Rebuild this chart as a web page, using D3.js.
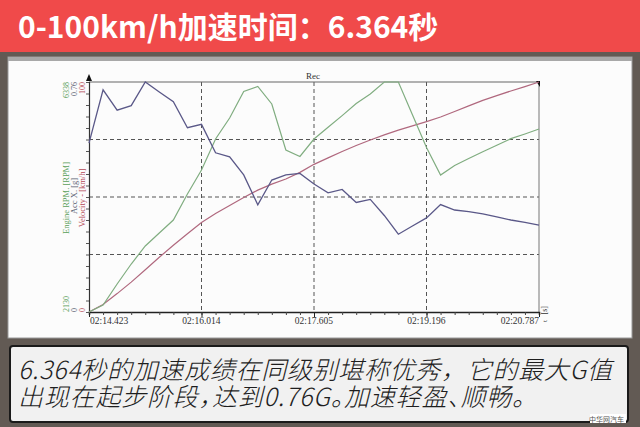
<!DOCTYPE html>
<html><head><meta charset="utf-8">
<script src="https://cdn.jsdelivr.net/npm/d3@7"></script>
<style>
html,body{margin:0;padding:0;background:#625a54;}
svg{display:block;}
</style></head>
<body>
<script>
// ---- data ----
const titleText = "0-100km/h加速时间：6.364秒";
const captionLines = ["6.364秒的加速成绩在同级别堪称优秀，它的最大G值", "出现在起步阶段，达到0.76G。加速轻盈、顺畅。"];
const timeLabels = ["02:14.423","02:16.014","02:17.605","02:19.196","02:20.787"];
const timeTicks = [0, 1.591, 3.182, 4.773, 6.364];
const times = [0,0.199,0.398,0.597,0.796,0.994,1.193,1.392,1.591,1.790,1.989,2.188,2.387,2.585,2.784,2.983,3.182,3.381,3.580,3.779,3.978,4.176,4.375,4.574,4.773,4.972,5.171,5.370,5.569,5.767,5.966,6.165,6.364];
const accX = [0.558,0.734,0.667,0.682,0.760,0.727,0.695,0.609,0.620,0.526,0.513,0.453,0.354,0.436,0.453,0.458,0.423,0.394,0.405,0.362,0.372,0.319,0.257,0.284,0.311,0.355,0.337,0.332,0.324,0.314,0.304,0.296,0.287];
const rpm = [2130,2258,2642,3008,3338,3575,3813,4289,4728,5295,5679,6164,6256,5936,5094,4975,5295,5509,5723,5945,6118,6338,6338,5738,5140,4636,4810,4938,5061,5182,5301,5387,5478];
const velocity = [0,3.3,8.0,13.0,18.4,23.8,29.0,34.0,38.9,42.8,46.3,49.8,53.0,55.6,57.8,60.7,64.2,67.0,69.8,72.4,74.8,77.0,79.1,80.9,82.8,84.8,87.2,89.6,92.0,94.1,96.1,98.0,100];
const accRange = [0, 0.76], rpmRange = [2130, 6338], velRange = [0, 100];

// ---- drawing ----
const W = 640, H = 427;
const svg = d3.select("body").append("svg").attr("width", W).attr("height", H);
svg.append("rect").attr("width", W).attr("height", H).attr("fill", "#625a54");

// header
svg.append("rect").attr("x",0).attr("y",0).attr("width",W).attr("height",52).attr("fill","#f04a4a");
svg.append("text").attr("x",18).attr("y",38).text(titleText)
  .attr("font-family","'Noto Sans CJK SC','Noto Sans',sans-serif").attr("font-weight","bold")
  .attr("font-size",30).attr("fill","#ffffff");

// chart panel
svg.append("rect").attr("x",8).attr("y",57).attr("width",624).attr("height",281).attr("fill","#fcfcfc").attr("stroke","#9a9a9a").attr("stroke-width",1);
svg.append("rect").attr("x",8).attr("y",57).attr("width",624).attr("height",4).attr("fill","#a8a8a8");

const L = 89, R = 539, T = 82, B = 312;
const x = d3.scaleLinear().domain([0, 6.364]).range([L, R]);
const yAcc = d3.scaleLinear().domain(accRange).range([B, T]);
const yRpm = d3.scaleLinear().domain(rpmRange).range([B, T]);
const yVel = d3.scaleLinear().domain(velRange).range([B, T]);

const g = svg.append("g");
// grid
[25,50,75].forEach(v => g.append("line").attr("x1",L).attr("x2",R).attr("y1",yVel(v)).attr("y2",yVel(v))
  .attr("stroke","#555").attr("stroke-dasharray","4,3").attr("stroke-width",1));
timeTicks.slice(1,4).forEach(t => g.append("line").attr("x1",x(t)).attr("x2",x(t)).attr("y1",T).attr("y2",B)
  .attr("stroke","#555").attr("stroke-dasharray","4,3").attr("stroke-width",1));
// frame top/right
g.append("line").attr("x1",L).attr("x2",R).attr("y1",T).attr("y2",T).attr("stroke","#666");
g.append("line").attr("x1",R).attr("x2",R).attr("y1",T).attr("y2",B).attr("stroke","#777");

// x axis
const xAxis = d3.axisBottom(x).tickValues(d3.range(33).map(i => i*6.364/32)).tickSize(3).tickFormat("");
const xa = g.append("g").attr("transform",`translate(0,${B})`).call(xAxis);
xa.select(".domain").attr("stroke","#222").attr("stroke-width",1.5);
xa.selectAll(".tick line").attr("stroke","#444");
const xMaj = d3.axisBottom(x).tickValues(timeTicks).tickSize(5).tickFormat("");
const xm = g.append("g").attr("transform",`translate(0,${B})`).call(xMaj);
xm.select(".domain").remove();
xm.selectAll(".tick line").attr("stroke","#222");
timeLabels.forEach((lab,i) => {
  const anchor = i===0 ? "start" : (i===timeLabels.length-1 ? "end" : "middle");
  g.append("text").attr("x", x(timeTicks[i]) + (i===0?1:0)).attr("y",324).attr("text-anchor",anchor)
   .attr("font-family","'Liberation Serif',serif").attr("font-size",9.5).attr("fill","#333").text(lab);
});

// y axis
const yAxis = d3.axisLeft(yVel).tickValues(d3.range(0,101,5)).tickSize(3).tickFormat("");
const ya = g.append("g").attr("transform",`translate(${L},0)`).call(yAxis);
ya.select(".domain").attr("stroke","#333").attr("stroke-width",1.2);
ya.selectAll(".tick line").attr("stroke","#555");
g.append("path").attr("d",`M${L-3},${T-1} L${L},${T-8} L${L+3},${T-1} Z`).attr("fill","#111");
g.append("path").attr("d",`M${R-3},${T-1} L${R+1},${T-1} L${R+1},${T+5} Z`).attr("fill","#111");

// y labels (rotated)
function rlab(cx, cy, txt, col, anchor, fs){
  g.append("text").attr("transform",`translate(${cx},${cy}) rotate(-90)`).attr("text-anchor",anchor)
   .attr("font-family","'Liberation Serif',serif").attr("font-size",fs).attr("fill",col).text(txt);
}
const cG = "#5aa05a", cA = "#5a5e72", cV = "#b44a58";
rlab(69, T, String(rpmRange[1]), cG, "end", 8);
rlab(77, T, String(accRange[1]), cA, "end", 8);
rlab(85, T, String(velRange[1]), cV, "end", 8);
rlab(69, B, String(rpmRange[0]), cG, "start", 8);
rlab(77, B, String(accRange[0]), cA, "start", 8);
rlab(85, B, String(velRange[0]), cV, "start", 8);
rlab(69, 198, "Engine RPM.  [RPM]", cG, "middle", 8.5);
rlab(77, 196, "Acc X.  [g]", cA, "middle", 8.5);
rlab(85, 198, "Velocity - [km/h]", cV, "middle", 8.5);

g.append("text").attr("x",313).attr("y",79).attr("text-anchor","middle").attr("font-family","'Liberation Serif',serif")
 .attr("font-size",9).attr("fill","#333").text("Rec");
g.append("text").attr("transform",`translate(547,306) rotate(-90)`).attr("text-anchor","end").attr("font-family","'Liberation Serif',serif")
 .attr("font-size",8).attr("fill","#333").text("[s]");
g.append("text").attr("transform",`translate(547,322) rotate(-90)`).attr("text-anchor","start").attr("font-family","'Liberation Serif',serif")
 .attr("font-size",7).attr("fill","#333").text("t");

// series
const mk = (ys, arr) => d3.line().x((d,i)=>x(times[i])).y(d=>ys(d))(arr);
g.append("path").attr("d", mk(yVel, velocity)).attr("fill","none").attr("stroke","#b0687e").attr("stroke-width",1.2);
g.append("path").attr("d", mk(yRpm, rpm)).attr("fill","none").attr("stroke","#80ad80").attr("stroke-width",1.2);
g.append("path").attr("d", mk(yAcc, accX)).attr("fill","none").attr("stroke","#5a5888").attr("stroke-width",1.3);

// caption box
svg.append("rect").attr("x",10).attr("y",346).attr("width",618).attr("height",76).attr("rx",3)
  .attr("fill","#f1f1f1").attr("stroke","#1a1a1a").attr("stroke-width",2);
const cap = svg.append("text")
  .attr("font-family","'Noto Sans CJK SC',sans-serif").attr("font-weight",300).attr("font-style","italic")
  .attr("font-size",25).attr("fill","#1e1e1e");
captionLines.forEach((ln,i) => {
  const ts = cap.append("tspan").attr("x",18).attr("y",379 + i*27).text(ln);
  if (i === 0) ts.attr("letter-spacing",0.7);
  else ts.attr("letter-spacing",0.8).style("font-feature-settings","'halt'");
});
svg.append("rect").attr("x",590).attr("y",414).attr("width",36).attr("height",9).attr("fill","#ffffff");
svg.append("text").attr("x",624).attr("y",422).attr("text-anchor","end").text("中华网汽车")
  .attr("font-family","'Noto Sans CJK SC',sans-serif").attr("font-size",7).attr("fill","#555");
</script>
</body></html>
